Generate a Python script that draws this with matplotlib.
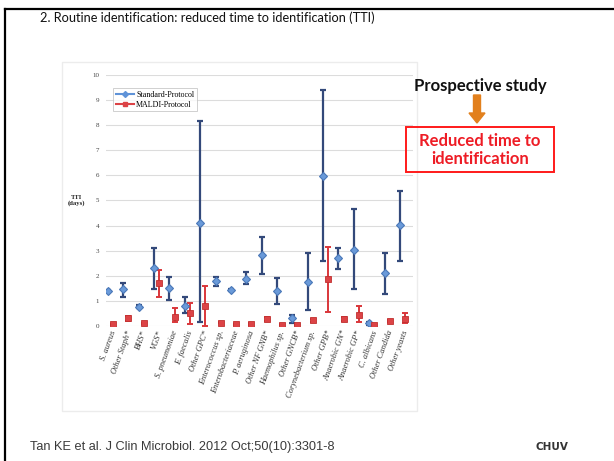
import numpy as np
import matplotlib
matplotlib.use("Agg")
import matplotlib.pyplot as plt
from matplotlib.patches import Rectangle, FancyArrow
from matplotlib.lines import Line2D

# organism groups and time to identification (days)
groups = ["S. aureus", "Other Staph*", "BHS*", "VGS*", "S. pneumoniae",
          "E. faecalis", "Other GPC*", "Enterococcus sp.", "Enterobacteriaceae",
          "P. aeruginosa", "Other NF GNB*", "Haemophilus sp.", "Other GNCB*",
          "Corynebacterium sp.", "Other GPB*", "Anaerobic GN*", "Anaerobic GP*",
          "C. albicans", "Other Candida", "Other yeasts"]

std_mean = [1.40, 1.47, 0.77, 2.30, 1.50, 0.80, 4.12, 1.80, 1.43, 1.87,
            2.83, 1.41, 0.30, 1.77, 5.99, 2.70, 3.03, 0.10, 2.10, 4.02]
std_low = [1.35, 1.17, 0.72, 1.46, 1.03, 0.50, 0.17, 1.60, 1.40, 1.66,
           2.07, 0.88, 0.10, 0.64, 2.60, 2.26, 1.46, 0.05, 1.27, 2.60]
std_high = [1.45, 1.72, 0.82, 3.10, 1.96, 1.14, 8.17, 1.96, 1.46, 2.16,
            3.53, 1.90, 0.44, 2.92, 9.40, 3.10, 4.65, 0.15, 2.92, 5.39]

maldi_mean = [0.06, 0.30, 0.10, 1.70, 0.37, 0.50, 0.80, 0.13, 0.06, 0.08,
              0.28, 0.04, 0.04, 0.22, 1.86, 0.26, 0.44, 0.04, 0.20, 0.26]
maldi_low = [0.03, 0.20, 0.07, 1.17, 0.17, 0.08, 0.00, 0.10, 0.03, 0.05,
             0.20, 0.02, 0.02, 0.15, 0.57, 0.18, 0.17, 0.02, 0.15, 0.10]
maldi_high = [0.09, 0.40, 0.13, 2.23, 0.70, 0.93, 1.60, 0.16, 0.09, 0.11,
              0.36, 0.06, 0.06, 0.29, 3.16, 0.34, 0.80, 0.06, 0.25, 0.53]

fig = plt.figure(figsize=(6.14, 4.61), dpi=100)
fig.patch.set_facecolor("white")

# slide frame
fig.add_artist(Line2D([5/614, 1], [1-9.5/461, 1-9.5/461], color="black", lw=1.6))
fig.add_artist(Line2D([5/614, 5/614], [0, 1-9.5/461], color="black", lw=1.6))

# soft border of the pasted chart
fig.add_artist(Rectangle((62/614, 1-411/461), (417-62)/614, (411-62)/461,
                         fill=False, ec="#ececec", lw=1.0))

fig.text(40/614, 1-18/461, "2. Routine identification: reduced time to identification (TTI)",
         fontsize=9.2, family="Lato", va="center", ha="left", color="#111111")

ax = fig.add_axes([106/614, 1-326/461, (413-106)/614, (326-75)/461])
x = np.arange(1, len(groups)+1)
sm = np.array(std_mean)
mm = np.array(maldi_mean)
std_err = [sm-np.array(std_low), np.array(std_high)-sm]
mal_err = [mm-np.array(maldi_low), np.array(maldi_high)-mm]

ax.errorbar(x-0.15, sm, yerr=std_err, fmt="none", ecolor="#33497a",
            elinewidth=1.6, capsize=2.5, capthick=1.6, zorder=3)
ax.errorbar(x+0.18, mm, yerr=mal_err, fmt="none", ecolor="#d9363a",
            elinewidth=1.4, capsize=2.5, capthick=1.4, zorder=3)
ax.plot(x-0.15, sm, ls="none", marker="D", ms=4.2, mfc="#6a9ad9",
        mec="#4a78b8", mew=0.8, zorder=4)
ax.plot(x+0.18, mm, ls="none", marker="s", ms=5.0, mfc="#dc4346",
        mec="#c0302f", mew=0.6, zorder=5)

ax.set_xlim(0.72, 20.7)
ax.set_ylim(0, 10)
ax.set_yticks(range(0, 11))
ax.set_yticklabels([str(v) for v in range(0, 11)], family="Liberation Serif",
                   fontsize=5, color="#444444")
ax.yaxis.grid(True, color="#dcdcdc", lw=0.8)
ax.set_axisbelow(True)
ax.tick_params(axis="y", length=0, pad=5)
ax.tick_params(axis="x", length=0, pad=2.5)
for s in ax.spines.values():
    s.set_visible(False)
ax.set_xticks(x)
ax.set_xticklabels(groups, rotation=70, ha="right", va="top",
                   rotation_mode="anchor", family="Liberation Serif",
                   style="italic", fontsize=6, color="#333333")

ax.text(-0.095, 0.5, "TTI\n(days)", transform=ax.transAxes, ha="center",
        va="center", family="Liberation Serif", fontweight="bold",
        fontsize=4.8, color="#222222", linespacing=1.1)

h1 = Line2D([], [], color="#5f93d8", lw=1.5, marker="D", ms=3, mfc="#5f93d8")
h2 = Line2D([], [], color="#dc4346", lw=1.5, marker="s", ms=3, mfc="#dc4346")
leg = ax.legend([h1, h2], ["Standard-Protocol", "MALDI-Protocol"],
                loc="upper left", bbox_to_anchor=(0.01, 0.965),
                prop={"family": "Liberation Serif", "size": 5.8},
                frameon=True, fancybox=False, handlelength=2.2,
                borderpad=0.35, labelspacing=0.25, handletextpad=0.3)
leg.get_frame().set_edgecolor("#bbbbbb")
leg.get_frame().set_linewidth(0.6)

# annotation on the right
fig.text(480/614, 1-86/461, "Prospective study", fontsize=12, family="Lato",
         fontweight="bold", ha="center", va="center", color="#111111")
fig.add_artist(FancyArrow(477/614, 1-95/461, 0, -28/461, width=7/614,
                          head_width=16/614, head_length=10/461,
                          length_includes_head=True, color="#e2801d",
                          transform=fig.transFigure))
fig.add_artist(Rectangle((406/614, 1-172/461), 148/614, 45/461,
                         fill=False, ec="#ff1a1a", lw=1.4))
fig.text(480/614, 1-150/461, "Reduced time to\nidentification", fontsize=12,
         family="Lato", fontweight="bold", ha="center", va="center",
         color="#ee1c25", linespacing=1.15)

fig.text(30/614, 1-447/461, "Tan KE et al. J Clin Microbiol. 2012 Oct;50(10):3301-8",
         fontsize=9.2, family="Liberation Sans", ha="left", va="center",
         color="#3a3a3a")
fig.text(552/614, 1-447/461, "CHUV", fontsize=7.5, family="DejaVu Sans",
         fontweight="bold", ha="center", va="center", color="#333333")

fig.savefig("out.png", dpi=100)
